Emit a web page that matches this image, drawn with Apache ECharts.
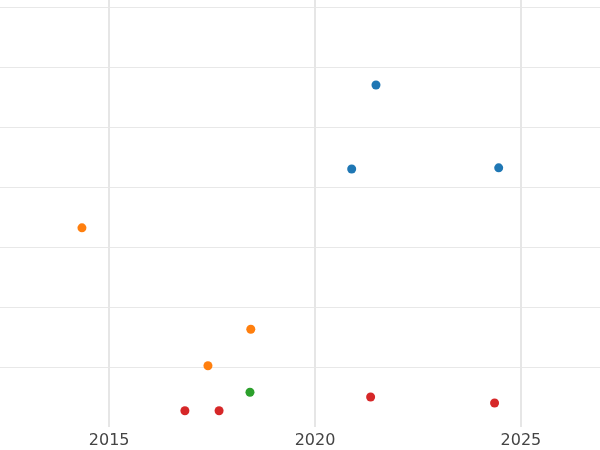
<!DOCTYPE html>
<html>
<head>
<meta charset="utf-8">
<script src="https://cdn.jsdelivr.net/npm/echarts@6/dist/echarts.min.js"></script>
<style>html,body{margin:0;padding:0;background:#fff}#c{width:600px;height:450px}</style>
</head>
<body>
<div id="c"></div>
<script>
var xTicks = [2015, 2020, 2025];
var blueX = [2021.48, 2020.89, 2024.46];
var blueY = [5.70, 4.30, 4.32];
var orangeX = [2014.34, 2018.44, 2017.40];
var orangeY = [3.32, 1.63, 1.02];
var greenX = [2018.42];
var greenY = [0.58];
var redX = [2016.84, 2017.67, 2021.35, 2024.36];
var redY = [0.27, 0.27, 0.50, 0.40];

function pts(xs, ys) {
    return xs.map(function (x, i) { return [x, ys[i]]; });
}

var chart = echarts.init(document.getElementById('c'));
var colors = ['#1f77b4', '#ff7f0e', '#2ca02c', '#d62728'];
var sets = [[blueX, blueY], [orangeX, orangeY], [greenX, greenY], [redX, redY]];

option = {
    animation: false,
    grid: {left: 0, right: 0, top: 0, bottom: 23},
    xAxis: {
        type: 'value', min: 2012.35, max: 2026.92,
        axisLine: {show: false}, axisTick: {show: false, customValues: xTicks},
        axisLabel: {customValues: xTicks, color: '#444', fontSize: 16, fontFamily: 'DejaVu Sans', margin: 6,
            formatter: function (v) { return String(v); }},
        splitLine: {show: true, lineStyle: {color: '#e6e6e6', width: 2}}
    },
    yAxis: {
        type: 'value', min: 0, max: 7.117, interval: 1,
        axisLine: {show: false}, axisTick: {show: false}, axisLabel: {show: false},
        splitLine: {showMinLine: false, showMaxLine: false, lineStyle: {color: '#e8e8e8', width: 1}}
    },
    series: sets.map(function (s, i) {
        return {
            type: 'scatter', symbolSize: 9,
            itemStyle: {color: colors[i], opacity: 1},
            data: pts(s[0], s[1])
        };
    })
};
chart.setOption(option);
</script>
</body>
</html>
